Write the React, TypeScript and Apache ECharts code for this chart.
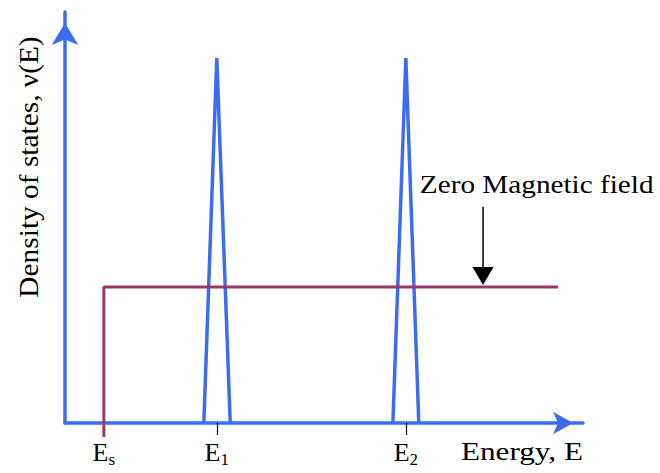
import React, { useEffect, useRef } from "react";
import * as echarts from "echarts";

// Energy levels (x, arbitrary units 0..100) and their subscripts
const levelNames = ["s", "1", "2"];
const levelEnergies = [7.5, 29.3, 65.8];
const tickEnergies = [29.3, 65.8];

// Landau-level peaks (x, density) — triangle outlines
const peak1: number[][] = [[26.8, 0], [29.3, 88.8], [31.9, 0]];
const peak2: number[][] = [[63.3, 0], [65.8, 88.8], [68.3, 0]];

// Zero-field density of states (step)
const zeroField: number[][] = [[7.5, -3.4], [7.5, 33.1], [95.2, 33.1]];

// Annotation
const annotationText = "Zero Magnetic field";
const annotationTextPos = [68.5, 57.9];
const annotationArrow: number[][] = [[80.7, 52.6], [80.7, 33.6]];

const xAxisTitle = "Energy, E";
const yAxisTitle = "Density of states, \u03bd(E)";

const BLUE = "#3b6cf2";
const MAGENTA = "#9b3767";
const SERIF = "Liberation Serif";

export default function App() {
  const ref = useRef<HTMLDivElement>(null);

  useEffect(() => {
    if (!ref.current) return;
    const chart = echarts.init(ref.current, null, { renderer: "svg" });
    chart.setOption({
      animation: false,
      backgroundColor: "#ffffff",
      grid: { left: 65, top: 12, width: 518, height: 411 },
      xAxis: {
        type: "value",
        min: 0,
        max: 100,
        splitLine: { show: false },
        axisLine: {
          show: true,
          lineStyle: { color: BLUE, width: 3.5 },
          symbol: ["none", "arrow"],
          symbolSize: [17, 20],
          symbolOffset: [0, -10],
        },
        axisTick: {
          show: true,
          customValues: tickEnergies,
          length: 12,
          lineStyle: { color: "#000", width: 1.2 },
        },
        axisLabel: {
          show: true,
          customValues: levelEnergies,
          margin: 16,
          formatter: (v: number) => {
            let i = 0;
            let best = Infinity;
            levelEnergies.forEach((e, k) => {
              if (Math.abs(e - v) < best) {
                best = Math.abs(e - v);
                i = k;
              }
            });
            return `{e|E}{s|${levelNames[i]}}`;
          },
          rich: {
            e: { fontSize: 26, fontFamily: SERIF, color: "#000", lineHeight: 26, verticalAlign: "top" },
            s: { fontSize: 17, fontFamily: SERIF, color: "#000", lineHeight: 26, verticalAlign: "top", padding: [12, 0, 0, 0] },
          },
        },
      },
      yAxis: {
        type: "value",
        min: 0,
        max: 100,
        splitLine: { show: false },
        axisTick: { show: false },
        axisLabel: { show: false },
        axisLine: {
          show: true,
          lineStyle: { color: BLUE, width: 3.5 },
          symbol: ["none", "arrow"],
          symbolSize: [20, 22],
          symbolOffset: [0, -11],
        },
      },
      series: [
        {
          type: "line",
          name: "Peak E1",
          data: peak1,
          symbol: "none",
          lineStyle: { color: BLUE, width: 3.5 },
          z: 3,
        },
        {
          type: "line",
          name: "Peak E2",
          data: peak2,
          symbol: "none",
          lineStyle: { color: BLUE, width: 3.5 },
          z: 3,
        },
        {
          type: "line",
          name: "Zero field",
          data: zeroField,
          symbol: "none",
          clip: false,
          lineStyle: { color: MAGENTA, width: 3 },
          z: 4,
        },
      ],
    });

    const p0 = chart.convertToPixel({ gridIndex: 0 }, annotationArrow[0]) as number[];
    const p1 = chart.convertToPixel({ gridIndex: 0 }, annotationArrow[1]) as number[];
    const pt = chart.convertToPixel({ gridIndex: 0 }, annotationTextPos) as number[];
    const headH = 18;
    const headW = 21;

    chart.setOption({
      graphic: [
        {
          type: "text",
          x: 28,
          y: 167,
          rotation: Math.PI / 2,
          scaleX: 1.05,
          style: {
            text: yAxisTitle,
            fontSize: 28,
            fontFamily: SERIF,
            fill: "#000",
            align: "center",
            verticalAlign: "middle",
          },
        },
        {
          type: "text",
          x: 583,
          y: 451,
          scaleX: 1.2,
          style: {
            text: xAxisTitle,
            fontSize: 26,
            fontFamily: SERIF,
            fill: "#000",
            align: "right",
            verticalAlign: "middle",
          },
        },
        {
          type: "text",
          x: pt[0],
          y: pt[1],
          scaleX: 1.17,
          style: {
            text: annotationText,
            fontSize: 25,
            fontFamily: SERIF,
            fill: "#000",
            align: "left",
            verticalAlign: "middle",
          },
        },
        {
          type: "line",
          shape: { x1: p0[0], y1: p0[1], x2: p1[0], y2: p1[1] - headH + 2 },
          style: { stroke: "#000", lineWidth: 1.5 },
        },
        {
          type: "polygon",
          shape: {
            points: [
              [p1[0] - headW / 2, p1[1] - headH],
              [p1[0] + headW / 2, p1[1] - headH],
              [p1[0], p1[1]],
            ],
          },
          style: { fill: "#000" },
        },
      ],
    });

    return () => chart.dispose();
  }, []);

  return (
    <div
      ref={ref}
      style={{ position: "fixed", left: 0, top: 0, width: 660, height: 473, background: "#fff" }}
    />
  );
}
